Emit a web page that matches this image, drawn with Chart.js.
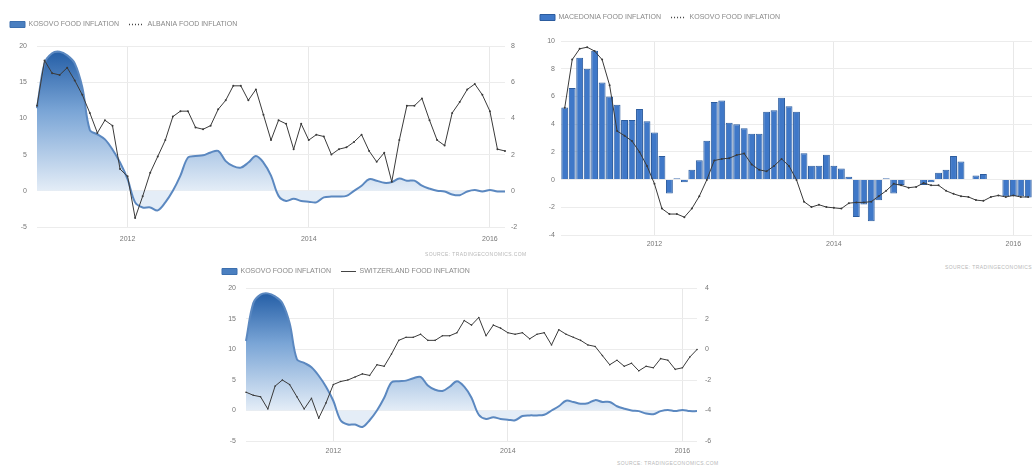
<!DOCTYPE html>
<html>
<head>
<meta charset="utf-8">
<script src="https://cdn.jsdelivr.net/npm/chart.js@4.4.0/dist/chart.umd.min.js"></script>
<style>
  html, body { margin: 0; padding: 0; background: #fff; width: 1032px; height: 466px; overflow: hidden; position: relative; }
  canvas { position: absolute; }
  .src { position: absolute; font: 5px 'Liberation Sans', Arial, sans-serif; color: #b8b8b8; letter-spacing: 0.4px; white-space: nowrap; }
</style>
</head>
<body>
<canvas id="c1" width="520" height="250" style="left:0;top:0"></canvas>
<canvas id="c2" width="516" height="250" style="left:520px;top:0"></canvas>
<canvas id="c3" width="507" height="205" style="left:210px;top:255px"></canvas>
<div class="src" style="left:425px;top:251px">SOURCE: TRADINGECONOMICS.COM</div>
<div class="src" style="left:945px;top:264px">SOURCE: TRADINGECONOMICS.COM</div>
<div class="src" style="left:617px;top:460px">SOURCE: TRADINGECONOMICS.COM</div>
<script>
// monthly categories, Jan 2011 .. Mar 2016
const months = [];
for (let y = 2011; y <= 2016; y++) {
  for (let m = 1; m <= 12; m++) {
    if (months.length < 63) months.push(y + '-' + String(m).padStart(2, '0'));
  }
}
const yearTicks = ['2012', '2014', '2016'];

const kosovo = [
  11.4, 17.6, 19.0, 19.2, 18.7, 17.6, 14.3, 8.4, 7.8, 7.1, 5.7, 3.9,
  1.6, -1.6, -2.3, -2.3, -2.7, -1.6, 0.0, 2.1, 4.6, 4.8, 4.9, 5.3,
  5.5, 4.1, 3.4, 3.2, 3.9, 4.8, 3.9, 2.1, -0.7, -1.4, -1.1, -1.4,
  -1.5, -1.6, -0.9, -0.8, -0.8, -0.7, 0.0, 0.7, 1.6, 1.4, 1.1, 1.2,
  1.7, 1.4, 1.4, 0.7, 0.3, 0.0, -0.1, -0.5, -0.6, -0.1, 0.1, -0.1,
  0.1, -0.1, -0.1
];
const albania = [
  4.7, 7.2, 6.5, 6.4, 6.8, 6.1, 5.3, 4.3, 3.2, 3.9, 3.6, 1.2,
  0.8, -1.5, -0.3, 1.0, 1.9, 2.8, 4.1, 4.4, 4.4, 3.5, 3.4, 3.6,
  4.5, 5.0, 5.8, 5.8, 5.0, 5.6, 4.2, 2.8, 3.9, 3.7, 2.3, 3.7,
  2.8, 3.1, 3.0, 2.0, 2.3, 2.4, 2.7, 3.1, 2.2, 1.6, 2.1, 0.5,
  2.8, 4.7, 4.7, 5.1, 3.9, 2.8, 2.5, 4.3, 4.9, 5.6, 5.9, 5.3,
  4.4, 2.3, 2.2
];
const macedonia = [
  5.2, 6.6, 8.8, 8.0, 9.3, 7.0, 6.0, 5.4, 4.3, 4.3, 5.1, 4.2,
  3.4, 1.7, -1.0, 0.1, -0.2, 0.7, 1.4, 2.8, 5.6, 5.7, 4.1, 4.0,
  3.7, 3.3, 3.3, 4.9, 5.0, 5.9, 5.3, 4.9, 1.9, 1.0, 1.0, 1.8,
  1.0, 0.8, 0.2, -2.7, -1.8, -3.0, -1.5, 0.1, -1.0, -0.4, 0.0, 0.0,
  -0.4, -0.2, 0.5, 0.7, 1.7, 1.3, 0.0, 0.3, 0.4, 0.05, 0.0, -1.2,
  -1.2, -1.2, -1.3
];
const switzerland = [
  -2.8, -3.0, -3.1, -3.9, -2.4, -2.0, -2.3, -3.1, -3.9, -3.2, -4.5, -3.5,
  -2.3, -2.1, -2.0, -1.8, -1.6, -1.7, -1.0, -1.1, -0.3, 0.6, 0.8, 0.8,
  1.0, 0.6, 0.6, 0.9, 0.9, 1.1, 1.9, 1.6, 2.1, 0.9, 1.6, 1.4,
  1.1, 1.0, 1.1, 0.7, 1.0, 1.1, 0.3, 1.3, 1.0, 0.8, 0.6, 0.3,
  0.2, -0.4, -1.0, -0.7, -1.1, -0.9, -1.4, -1.1, -1.2, -0.6, -0.7, -1.3,
  -1.2, -0.5, 0.0
];

Chart.defaults.font.family = "'Liberation Sans', Arial, sans-serif";
Chart.defaults.font.size = 7;
Chart.defaults.color = '#777';
Chart.defaults.animation = false;

const GRID = '#ececec';

// blue gradient under the Kosovo line, dark at the top fading to pale at zero
function kosovoFill(ctx) {
  const chart = ctx.chart;
  if (!chart.chartArea) return '#7da4d4';
  const ys = chart.scales.y;
  const g = chart.ctx.createLinearGradient(0, ys.getPixelForValue(20), 0, ys.getPixelForValue(0));
  g.addColorStop(0, '#1d58a2');
  g.addColorStop(0.45, '#7aa5d6');
  g.addColorStop(1, '#e4edf7');
  return g;
}

function xAxis(pad, height, offset) {
  return {
    type: 'category',
    offset: offset,
    grid: {
      color: c => (c.tick && c.tick.label) ? '#e8e8e8' : 'rgba(0,0,0,0)',
      drawTicks: false,
      offset: false
    },
    border: { display: false },
    ticks: {
      autoSkip: false, maxRotation: 0, padding: pad, color: '#777',
      callback: (v, i) => {
        const [yr, mo] = months[i].split('-');
        return (mo === '01' && yearTicks.includes(yr)) ? yr : '';
      }
    },
    afterFit: s => { s.height = height; }
  };
}

function yAxis(pos, min, max, step, width, pad, grid, show) {
  return {
    position: pos, min: min, max: max, display: show !== false,
    ticks: { stepSize: step, padding: pad, color: '#777' },
    grid: { display: grid, color: GRID, drawTicks: false },
    border: { display: false },
    afterFit: s => { s.width = width; }
  };
}

function legend(items, pad) {
  return {
    position: 'top', align: 'start',
    labels: {
      usePointStyle: true, pointStyleWidth: 15, boxHeight: 6, padding: pad,
      color: '#888', font: { size: 7 },
      generateLabels: () => items.map((it, i) => ({
        text: it.text, fillStyle: it.fill, strokeStyle: it.stroke, lineWidth: it.width, fontColor: '#888',
        lineDash: it.dash || [], pointStyle: it.style, hidden: false, datasetIndex: i
      }))
    }
  };
}

// push the plot area down below the legend
function legendGap(extra) {
  return {
    id: 'legendGap',
    beforeInit(chart) {
      const fit = chart.legend.fit;
      chart.legend.fit = function () { fit.bind(chart.legend)(); this.height += extra; };
    }
  };
}

const areaItem = { text: 'KOSOVO FOOD INFLATION', fill: '#4a7fc0', stroke: '#3c6fae', width: 1, style: 'rect' };

// chart 1: Kosovo vs Albania
new Chart(document.getElementById('c1'), {
  type: 'line',
  data: {
    labels: months,
    datasets: [
      { label: 'KOSOVO FOOD INFLATION', data: kosovo, yAxisID: 'y', borderColor: '#5b88c0', borderWidth: 2,
        pointRadius: 0, tension: 0.35, fill: 'origin', backgroundColor: kosovoFill, order: 2 },
      { label: 'ALBANIA FOOD INFLATION', data: albania, yAxisID: 'y1', borderColor: '#3a3a3a', borderWidth: 1,
        pointRadius: 1, pointBorderWidth: 0, pointBackgroundColor: '#3a3a3a', tension: 0, fill: false, order: 1 }
    ]
  },
  options: {
    responsive: false,
    layout: { padding: { top: 11, left: 0, right: 0, bottom: 0 } },
    plugins: {
      legend: legend([areaItem,
        { text: 'ALBANIA FOOD INFLATION', fill: '#444', stroke: '#444', width: 1.5, dash: [1, 2], style: 'line' }], 10),
      tooltip: { enabled: false }
    },
    scales: {
      x: xAxis(8, 23, false),
      y: yAxis('left', -5, 20, 5, 37, 10, true),
      y1: yAxis('right', -2, 8, 2, 15, 6, false)
    }
  },
  plugins: [legendGap(8)]
});

// chart 2: Macedonia bars vs Kosovo line
new Chart(document.getElementById('c2'), {
  type: 'bar',
  data: {
    labels: months,
    datasets: [
      { type: 'line', label: 'KOSOVO FOOD INFLATION', data: kosovo, yAxisID: 'y1', borderColor: '#3a3a3a', borderWidth: 1,
        pointRadius: 1, pointBorderWidth: 0, pointBackgroundColor: '#3a3a3a', tension: 0, fill: false, order: 1 },
      { label: 'MACEDONIA FOOD INFLATION', data: macedonia, yAxisID: 'y', backgroundColor: '#3f78c8',
        borderColor: '#2c5c9e', borderWidth: 1, barPercentage: 0.92, categoryPercentage: 1, order: 2 }
    ]
  },
  options: {
    responsive: false,
    layout: { padding: { top: 4, left: 10, right: 2, bottom: 0 } },
    plugins: {
      legend: legend([
        { text: 'MACEDONIA FOOD INFLATION', fill: '#3f78c8', stroke: '#2c5c9e', width: 1, style: 'rect' },
        { text: 'KOSOVO FOOD INFLATION', fill: '#444', stroke: '#444', width: 1.5, dash: [1, 2], style: 'line' }], 10),
      tooltip: { enabled: false }
    },
    scales: {
      x: xAxis(5, 15, true),
      y: yAxis('left', -4, 10, 2, 31, 6, true),
      y1: yAxis('right', -5, 20, 5, 0, 0, false, false)
    }
  },
  plugins: [legendGap(10)]
});

// chart 3: Kosovo vs Switzerland
new Chart(document.getElementById('c3'), {
  type: 'line',
  data: {
    labels: months,
    datasets: [
      { label: 'KOSOVO FOOD INFLATION', data: kosovo, yAxisID: 'y', borderColor: '#5b88c0', borderWidth: 2,
        pointRadius: 0, tension: 0.35, fill: 'origin', backgroundColor: kosovoFill, order: 2 },
      { label: 'SWITZERLAND FOOD INFLATION', data: switzerland, yAxisID: 'y1', borderColor: '#3a3a3a', borderWidth: 1,
        pointRadius: 0.8, pointBorderWidth: 0, pointBackgroundColor: '#3a3a3a', tension: 0, fill: false, order: 1 }
    ]
  },
  options: {
    responsive: false,
    layout: { padding: { top: 3, left: 2, right: 0, bottom: 0 } },
    plugins: {
      legend: legend([areaItem,
        { text: 'SWITZERLAND FOOD INFLATION', fill: '#444', stroke: '#444', width: 1, style: 'line' }], 10),
      tooltip: { enabled: false }
    },
    scales: {
      x: xAxis(6, 19, false),
      y: yAxis('left', -5, 20, 5, 34, 10, true),
      y1: yAxis('right', -6, 4, 2, 20, 8, false)
    }
  },
  plugins: [legendGap(3.5)]
});
</script>
</body>
</html>
